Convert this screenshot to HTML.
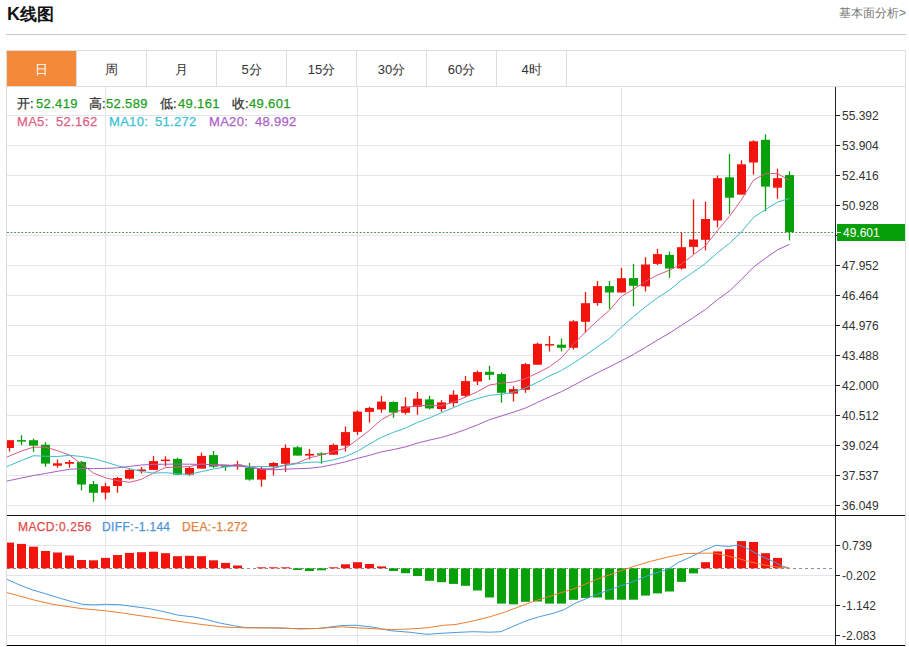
<!DOCTYPE html>
<html><head><meta charset="utf-8"><style>
html,body{margin:0;padding:0;background:#fff;}
body{width:909px;height:647px;overflow:hidden;position:relative;font-family:"Liberation Sans",sans-serif;}
.a{position:absolute;white-space:nowrap;}
#title{left:7px;top:2px;font-size:18px;font-weight:bold;color:#111;line-height:24px;}
#more{right:3px;top:4px;font-size:12px;color:#777;line-height:18px;}
#hr{left:6px;top:34px;width:900px;height:1px;background:#c8c8c8;}
#box{left:6px;top:50px;width:898px;height:600px;border:1px solid #ddd;}
.tab{position:absolute;top:51px;width:69px;height:35px;line-height:37px;text-align:center;font-size:13px;color:#333;border-right:1px solid #ddd;}
.tab.on{background:#f4893a;color:#fff;}
#tabline{left:7px;top:86px;width:898px;height:1px;background:#ddd;}
svg{position:absolute;left:0;top:0;}
svg text{font-family:"Liberation Sans",sans-serif;font-size:12px;fill:#333;}
.tx{line-height:16px;-webkit-text-stroke:0.25px;}
.k{color:#333} .gv{color:#22a022}
</style></head><body>
<div class="a" id="title">K<span style="font-size:17px;vertical-align:0.5px">线图</span></div>
<div class="a" id="more">基本面分析&gt;</div>
<div class="a" id="hr"></div>
<div class="a" id="box"></div>
<div class="tab on" style="left:7px">日</div><div class="tab" style="left:77px">周</div><div class="tab" style="left:147px">月</div><div class="tab" style="left:217px">5分</div><div class="tab" style="left:287px">15分</div><div class="tab" style="left:357px">30分</div><div class="tab" style="left:427px">60分</div><div class="tab" style="left:497px">4时</div>
<div class="a" id="tabline"></div>
<svg width="909" height="647" viewBox="0 0 909 647">
<defs><clipPath id="cp"><rect x="7" y="87" width="829" height="560"/></clipPath></defs><g clip-path="url(#cp)"><line x1="7" y1="115.5" x2="835" y2="115.5" stroke="#e3e5ea"/>
<line x1="7" y1="145.5" x2="835" y2="145.5" stroke="#e3e5ea"/>
<line x1="7" y1="175.5" x2="835" y2="175.5" stroke="#e3e5ea"/>
<line x1="7" y1="205.5" x2="835" y2="205.5" stroke="#e3e5ea"/>
<line x1="7" y1="235.5" x2="835" y2="235.5" stroke="#e3e5ea"/>
<line x1="7" y1="265.5" x2="835" y2="265.5" stroke="#e3e5ea"/>
<line x1="7" y1="295.5" x2="835" y2="295.5" stroke="#e3e5ea"/>
<line x1="7" y1="325.5" x2="835" y2="325.5" stroke="#e3e5ea"/>
<line x1="7" y1="355.5" x2="835" y2="355.5" stroke="#e3e5ea"/>
<line x1="7" y1="385.5" x2="835" y2="385.5" stroke="#e3e5ea"/>
<line x1="7" y1="415.5" x2="835" y2="415.5" stroke="#e3e5ea"/>
<line x1="7" y1="445.5" x2="835" y2="445.5" stroke="#e3e5ea"/>
<line x1="7" y1="475.5" x2="835" y2="475.5" stroke="#e3e5ea"/>
<line x1="7" y1="505.5" x2="835" y2="505.5" stroke="#e3e5ea"/>
<line x1="7" y1="545.5" x2="835" y2="545.5" stroke="#e3e5ea"/>
<line x1="7" y1="575.5" x2="835" y2="575.5" stroke="#e3e5ea"/>
<line x1="7" y1="605.5" x2="835" y2="605.5" stroke="#e3e5ea"/>
<line x1="7" y1="635.5" x2="835" y2="635.5" stroke="#e3e5ea"/>
<line x1="105.5" y1="87" x2="105.5" y2="645" stroke="#e3e5ea"/>
<line x1="357.5" y1="87" x2="357.5" y2="645" stroke="#e3e5ea"/>
<line x1="621.5" y1="87" x2="621.5" y2="645" stroke="#e3e5ea"/>
<line x1="7" y1="232.5" x2="836" y2="232.5" stroke="#4a8a52" stroke-dasharray="1.8,1.8"/>
<line x1="7" y1="568.5" x2="835" y2="568.5" stroke="#8a909a" stroke-dasharray="3,3"/>
<line x1="9.5" y1="440.2" x2="9.5" y2="451.4" stroke="#f0140c" stroke-width="1.3"/>
<rect x="5.0" y="440.2" width="9" height="7.8" fill="#f0140c"/>
<line x1="21.5" y1="435.2" x2="21.5" y2="445.0" stroke="#08a008" stroke-width="1.3"/>
<rect x="17.0" y="440.1" width="9" height="1.5" fill="#08a008"/>
<line x1="33.5" y1="438.7" x2="33.5" y2="451.8" stroke="#08a008" stroke-width="1.3"/>
<rect x="29.0" y="440.2" width="9" height="5.4" fill="#08a008"/>
<line x1="45.5" y1="442.2" x2="45.5" y2="466.8" stroke="#08a008" stroke-width="1.3"/>
<rect x="41.0" y="444.7" width="9" height="18.9" fill="#08a008"/>
<line x1="57.5" y1="459.5" x2="57.5" y2="467.7" stroke="#f0140c" stroke-width="1.3"/>
<rect x="53.0" y="463.3" width="9" height="2.4" fill="#f0140c"/>
<line x1="69.5" y1="460.0" x2="69.5" y2="467.7" stroke="#f0140c" stroke-width="1.3"/>
<rect x="65.0" y="462.0" width="9" height="1.8" fill="#f0140c"/>
<line x1="81.5" y1="461.0" x2="81.5" y2="490.3" stroke="#08a008" stroke-width="1.3"/>
<rect x="77.0" y="461.9" width="9" height="22.6" fill="#08a008"/>
<line x1="93.5" y1="481.0" x2="93.5" y2="501.8" stroke="#08a008" stroke-width="1.3"/>
<rect x="89.0" y="484.1" width="9" height="8.7" fill="#08a008"/>
<line x1="105.5" y1="482.9" x2="105.5" y2="499.4" stroke="#f0140c" stroke-width="1.3"/>
<rect x="101.0" y="486.2" width="9" height="6.4" fill="#f0140c"/>
<line x1="117.5" y1="476.9" x2="117.5" y2="492.8" stroke="#f0140c" stroke-width="1.3"/>
<rect x="113.0" y="478.0" width="9" height="8.0" fill="#f0140c"/>
<line x1="129.5" y1="468.8" x2="129.5" y2="479.6" stroke="#f0140c" stroke-width="1.3"/>
<rect x="125.0" y="469.9" width="9" height="8.8" fill="#f0140c"/>
<line x1="141.5" y1="467.0" x2="141.5" y2="473.6" stroke="#f0140c" stroke-width="1.3"/>
<rect x="137.0" y="469.5" width="9" height="1.5" fill="#f0140c"/>
<line x1="153.5" y1="456.0" x2="153.5" y2="469.9" stroke="#f0140c" stroke-width="1.3"/>
<rect x="149.0" y="461.1" width="9" height="8.8" fill="#f0140c"/>
<line x1="165.5" y1="456.3" x2="165.5" y2="466.4" stroke="#f0140c" stroke-width="1.3"/>
<rect x="161.0" y="459.6" width="9" height="1.5" fill="#f0140c"/>
<line x1="177.5" y1="457.6" x2="177.5" y2="474.7" stroke="#08a008" stroke-width="1.3"/>
<rect x="173.0" y="458.9" width="9" height="15.8" fill="#08a008"/>
<line x1="189.5" y1="466.4" x2="189.5" y2="475.8" stroke="#f0140c" stroke-width="1.3"/>
<rect x="185.0" y="468.0" width="9" height="6.7" fill="#f0140c"/>
<line x1="201.5" y1="452.6" x2="201.5" y2="468.6" stroke="#f0140c" stroke-width="1.3"/>
<rect x="197.0" y="455.9" width="9" height="12.7" fill="#f0140c"/>
<line x1="213.5" y1="451.0" x2="213.5" y2="468.0" stroke="#08a008" stroke-width="1.3"/>
<rect x="209.0" y="455.1" width="9" height="11.6" fill="#08a008"/>
<line x1="225.5" y1="465.8" x2="225.5" y2="470.8" stroke="#08a008" stroke-width="1.3"/>
<rect x="221.0" y="465.2" width="9" height="1.5" fill="#08a008"/>
<line x1="237.5" y1="460.9" x2="237.5" y2="469.7" stroke="#f0140c" stroke-width="1.3"/>
<rect x="233.0" y="464.7" width="9" height="1.7" fill="#f0140c"/>
<line x1="249.5" y1="463.0" x2="249.5" y2="480.7" stroke="#08a008" stroke-width="1.3"/>
<rect x="245.0" y="467.8" width="9" height="11.8" fill="#08a008"/>
<line x1="261.5" y1="466.9" x2="261.5" y2="486.7" stroke="#f0140c" stroke-width="1.3"/>
<rect x="257.0" y="468.6" width="9" height="11.0" fill="#f0140c"/>
<line x1="273.5" y1="462.0" x2="273.5" y2="475.5" stroke="#f0140c" stroke-width="1.3"/>
<rect x="269.0" y="463.0" width="9" height="3.9" fill="#f0140c"/>
<line x1="285.5" y1="444.4" x2="285.5" y2="471.9" stroke="#f0140c" stroke-width="1.3"/>
<rect x="281.0" y="447.9" width="9" height="15.9" fill="#f0140c"/>
<line x1="297.5" y1="446.0" x2="297.5" y2="455.6" stroke="#08a008" stroke-width="1.3"/>
<rect x="293.0" y="447.3" width="9" height="8.3" fill="#08a008"/>
<line x1="309.5" y1="449.0" x2="309.5" y2="459.4" stroke="#f0140c" stroke-width="1.3"/>
<rect x="305.0" y="453.9" width="9" height="1.7" fill="#f0140c"/>
<line x1="321.5" y1="452.3" x2="321.5" y2="463.8" stroke="#08a008" stroke-width="1.3"/>
<rect x="317.0" y="453.4" width="9" height="1.4" fill="#08a008"/>
<line x1="333.5" y1="443.5" x2="333.5" y2="454.7" stroke="#f0140c" stroke-width="1.3"/>
<rect x="329.0" y="444.9" width="9" height="9.8" fill="#f0140c"/>
<line x1="345.5" y1="426.4" x2="345.5" y2="451.5" stroke="#f0140c" stroke-width="1.3"/>
<rect x="341.0" y="432.1" width="9" height="13.6" fill="#f0140c"/>
<line x1="357.5" y1="410.5" x2="357.5" y2="435.0" stroke="#f0140c" stroke-width="1.3"/>
<rect x="353.0" y="411.6" width="9" height="20.3" fill="#f0140c"/>
<line x1="369.5" y1="406.8" x2="369.5" y2="422.6" stroke="#f0140c" stroke-width="1.3"/>
<rect x="365.0" y="407.9" width="9" height="4.0" fill="#f0140c"/>
<line x1="381.5" y1="395.8" x2="381.5" y2="412.8" stroke="#f0140c" stroke-width="1.3"/>
<rect x="377.0" y="401.6" width="9" height="7.9" fill="#f0140c"/>
<line x1="393.5" y1="401.3" x2="393.5" y2="417.8" stroke="#08a008" stroke-width="1.3"/>
<rect x="389.0" y="402.0" width="9" height="10.6" fill="#08a008"/>
<line x1="405.5" y1="397.2" x2="405.5" y2="414.5" stroke="#f0140c" stroke-width="1.3"/>
<rect x="401.0" y="406.4" width="9" height="6.4" fill="#f0140c"/>
<line x1="417.5" y1="391.9" x2="417.5" y2="414.8" stroke="#f0140c" stroke-width="1.3"/>
<rect x="413.0" y="398.7" width="9" height="8.1" fill="#f0140c"/>
<line x1="429.5" y1="395.8" x2="429.5" y2="409.5" stroke="#08a008" stroke-width="1.3"/>
<rect x="425.0" y="399.4" width="9" height="9.0" fill="#08a008"/>
<line x1="441.5" y1="400.2" x2="441.5" y2="411.7" stroke="#f0140c" stroke-width="1.3"/>
<rect x="437.0" y="402.4" width="9" height="6.6" fill="#f0140c"/>
<line x1="453.5" y1="390.3" x2="453.5" y2="406.8" stroke="#f0140c" stroke-width="1.3"/>
<rect x="449.0" y="394.7" width="9" height="8.4" fill="#f0140c"/>
<line x1="465.5" y1="376.0" x2="465.5" y2="396.9" stroke="#f0140c" stroke-width="1.3"/>
<rect x="461.0" y="381.1" width="9" height="14.7" fill="#f0140c"/>
<line x1="477.5" y1="370.5" x2="477.5" y2="385.0" stroke="#f0140c" stroke-width="1.3"/>
<rect x="473.0" y="372.1" width="9" height="9.4" fill="#f0140c"/>
<line x1="489.5" y1="365.8" x2="489.5" y2="380.0" stroke="#08a008" stroke-width="1.3"/>
<rect x="485.0" y="371.8" width="9" height="3.1" fill="#08a008"/>
<line x1="501.5" y1="372.4" x2="501.5" y2="402.7" stroke="#08a008" stroke-width="1.3"/>
<rect x="497.0" y="374.1" width="9" height="18.7" fill="#08a008"/>
<line x1="513.5" y1="386.2" x2="513.5" y2="401.6" stroke="#f0140c" stroke-width="1.3"/>
<rect x="509.0" y="389.1" width="9" height="4.5" fill="#f0140c"/>
<line x1="525.5" y1="363.0" x2="525.5" y2="392.8" stroke="#f0140c" stroke-width="1.3"/>
<rect x="521.0" y="364.1" width="9" height="25.7" fill="#f0140c"/>
<line x1="537.5" y1="342.7" x2="537.5" y2="364.7" stroke="#f0140c" stroke-width="1.3"/>
<rect x="533.0" y="343.8" width="9" height="20.9" fill="#f0140c"/>
<line x1="549.5" y1="336.0" x2="549.5" y2="351.5" stroke="#f0140c" stroke-width="1.3"/>
<rect x="545.0" y="344.1" width="9" height="1.5" fill="#f0140c"/>
<line x1="561.5" y1="338.5" x2="561.5" y2="351.5" stroke="#08a008" stroke-width="1.3"/>
<rect x="557.0" y="344.7" width="9" height="3.1" fill="#08a008"/>
<line x1="573.5" y1="320.2" x2="573.5" y2="349.6" stroke="#f0140c" stroke-width="1.3"/>
<rect x="569.0" y="321.3" width="9" height="26.5" fill="#f0140c"/>
<line x1="585.5" y1="292.0" x2="585.5" y2="332.5" stroke="#f0140c" stroke-width="1.3"/>
<rect x="581.0" y="303.2" width="9" height="18.6" fill="#f0140c"/>
<line x1="597.5" y1="281.0" x2="597.5" y2="305.7" stroke="#f0140c" stroke-width="1.3"/>
<rect x="593.0" y="286.1" width="9" height="16.9" fill="#f0140c"/>
<line x1="609.5" y1="281.0" x2="609.5" y2="309.0" stroke="#08a008" stroke-width="1.3"/>
<rect x="605.0" y="286.1" width="9" height="6.4" fill="#08a008"/>
<line x1="621.5" y1="267.8" x2="621.5" y2="292.5" stroke="#f0140c" stroke-width="1.3"/>
<rect x="617.0" y="278.2" width="9" height="14.3" fill="#f0140c"/>
<line x1="633.5" y1="263.9" x2="633.5" y2="306.3" stroke="#08a008" stroke-width="1.3"/>
<rect x="629.0" y="278.1" width="9" height="7.7" fill="#08a008"/>
<line x1="645.5" y1="257.2" x2="645.5" y2="291.5" stroke="#f0140c" stroke-width="1.3"/>
<rect x="641.0" y="264.5" width="9" height="21.9" fill="#f0140c"/>
<line x1="657.5" y1="249.0" x2="657.5" y2="265.0" stroke="#f0140c" stroke-width="1.3"/>
<rect x="653.0" y="254.1" width="9" height="9.8" fill="#f0140c"/>
<line x1="669.5" y1="251.5" x2="669.5" y2="277.8" stroke="#08a008" stroke-width="1.3"/>
<rect x="665.0" y="254.9" width="9" height="13.6" fill="#08a008"/>
<line x1="681.5" y1="232.5" x2="681.5" y2="269.6" stroke="#f0140c" stroke-width="1.3"/>
<rect x="677.0" y="247.2" width="9" height="21.3" fill="#f0140c"/>
<line x1="693.5" y1="199.3" x2="693.5" y2="254.1" stroke="#f0140c" stroke-width="1.3"/>
<rect x="689.0" y="239.5" width="9" height="7.4" fill="#f0140c"/>
<line x1="705.5" y1="201.6" x2="705.5" y2="250.3" stroke="#f0140c" stroke-width="1.3"/>
<rect x="701.0" y="219.0" width="9" height="20.8" fill="#f0140c"/>
<line x1="717.5" y1="175.5" x2="717.5" y2="227.4" stroke="#f0140c" stroke-width="1.3"/>
<rect x="713.0" y="178.2" width="9" height="42.3" fill="#f0140c"/>
<line x1="729.5" y1="153.8" x2="729.5" y2="214.1" stroke="#08a008" stroke-width="1.3"/>
<rect x="725.0" y="177.3" width="9" height="20.4" fill="#08a008"/>
<line x1="741.5" y1="160.3" x2="741.5" y2="194.6" stroke="#f0140c" stroke-width="1.3"/>
<rect x="737.0" y="164.3" width="9" height="30.3" fill="#f0140c"/>
<line x1="753.5" y1="140.2" x2="753.5" y2="174.7" stroke="#f0140c" stroke-width="1.3"/>
<rect x="749.0" y="141.3" width="9" height="21.2" fill="#f0140c"/>
<line x1="765.5" y1="134.3" x2="765.5" y2="211.3" stroke="#08a008" stroke-width="1.3"/>
<rect x="761.0" y="139.8" width="9" height="46.8" fill="#08a008"/>
<line x1="777.5" y1="168.6" x2="777.5" y2="198.8" stroke="#f0140c" stroke-width="1.3"/>
<rect x="773.0" y="178.2" width="9" height="9.5" fill="#f0140c"/>
<line x1="789.5" y1="171.4" x2="789.5" y2="240.4" stroke="#08a008" stroke-width="1.3"/>
<rect x="785.0" y="175.1" width="9" height="57.1" fill="#08a008"/>
<polyline points="-2.5,461.0 9.5,456.0 21.5,451.0 33.5,447.2 45.5,447.2 57.5,450.7 69.5,455.1 81.5,463.8 93.5,473.2 105.5,477.8 117.5,480.7 129.5,482.3 141.5,479.3 153.5,472.9 165.5,467.6 177.5,467.0 189.5,466.6 201.5,463.9 213.5,465.0 225.5,466.4 237.5,464.4 249.5,466.7 261.5,469.2 273.5,468.5 285.5,464.8 297.5,462.9 309.5,457.8 321.5,455.0 333.5,451.4 345.5,448.3 357.5,439.5 369.5,430.3 381.5,419.6 393.5,413.2 405.5,408.0 417.5,405.4 429.5,405.5 441.5,405.7 453.5,402.1 465.5,397.1 477.5,391.7 489.5,385.0 501.5,383.1 513.5,382.0 525.5,378.6 537.5,372.9 549.5,366.8 561.5,357.8 573.5,344.2 585.5,332.0 597.5,320.5 609.5,310.2 621.5,296.3 633.5,289.2 645.5,281.4 657.5,275.0 669.5,270.2 681.5,264.0 693.5,254.8 705.5,245.7 717.5,230.5 729.5,216.3 741.5,199.7 753.5,180.1 765.5,173.6 777.5,173.6 789.5,180.5" fill="none" stroke="#d95c82" stroke-width="1.0" stroke-linejoin="round"/>
<polyline points="-2.5,470.5 9.5,465.5 21.5,460.5 33.5,455.7 45.5,456.3 57.5,456.5 69.5,455.3 81.5,456.5 93.5,458.5 105.5,462.0 117.5,465.7 129.5,468.7 141.5,471.5 153.5,473.1 165.5,472.7 177.5,473.8 189.5,474.4 201.5,471.6 213.5,469.0 225.5,467.0 237.5,465.7 249.5,466.6 261.5,466.5 273.5,466.7 285.5,465.6 297.5,463.6 309.5,462.2 321.5,462.1 333.5,459.9 345.5,456.5 357.5,451.2 369.5,444.0 381.5,437.3 393.5,432.3 405.5,428.1 417.5,422.4 429.5,417.9 441.5,412.7 453.5,407.6 465.5,402.5 477.5,398.6 489.5,395.3 501.5,394.4 513.5,392.1 525.5,387.8 537.5,382.3 549.5,375.9 561.5,370.4 573.5,363.1 585.5,355.3 597.5,346.7 609.5,338.5 621.5,327.0 633.5,316.7 645.5,306.7 657.5,297.8 669.5,290.2 681.5,280.1 693.5,272.0 705.5,263.5 717.5,252.8 729.5,243.3 741.5,231.9 753.5,217.4 765.5,209.6 777.5,202.1 789.5,198.4" fill="none" stroke="#3cbccb" stroke-width="1.0" stroke-linejoin="round"/>
<polyline points="-2.5,483.0 9.5,480.5 21.5,478.0 33.5,475.5 45.5,473.5 57.5,471.3 69.5,469.3 81.5,468.6 93.5,468.5 105.5,468.4 117.5,467.8 129.5,466.4 141.5,465.0 153.5,464.4 165.5,464.2 177.5,464.1 189.5,464.2 201.5,464.4 213.5,464.6 225.5,464.9 237.5,465.7 249.5,467.6 261.5,469.0 273.5,469.9 285.5,469.1 297.5,468.7 309.5,468.3 321.5,466.9 333.5,464.5 345.5,461.8 357.5,458.4 369.5,455.3 381.5,451.9 393.5,449.5 405.5,446.9 417.5,443.1 429.5,440.1 441.5,437.4 453.5,433.8 465.5,429.5 477.5,424.9 489.5,419.7 501.5,415.9 513.5,412.2 525.5,408.0 537.5,402.4 549.5,396.9 561.5,391.6 573.5,385.4 585.5,378.9 597.5,372.7 609.5,366.9 621.5,360.7 633.5,354.4 645.5,347.3 657.5,340.1 669.5,333.1 681.5,325.3 693.5,317.5 705.5,309.4 717.5,299.7 729.5,290.9 741.5,279.4 753.5,267.1 765.5,258.2 777.5,249.9 789.5,244.3" fill="none" stroke="#a85cc2" stroke-width="1.0" stroke-linejoin="round"/>
<rect x="5.0" y="542.6" width="9" height="25.7" fill="#f0140c"/>
<rect x="17.0" y="543.9" width="9" height="24.4" fill="#f0140c"/>
<rect x="29.0" y="546.7" width="9" height="21.6" fill="#f0140c"/>
<rect x="41.0" y="551.0" width="9" height="17.3" fill="#f0140c"/>
<rect x="53.0" y="552.5" width="9" height="15.8" fill="#f0140c"/>
<rect x="65.0" y="555.5" width="9" height="12.8" fill="#f0140c"/>
<rect x="77.0" y="560.0" width="9" height="8.3" fill="#f0140c"/>
<rect x="89.0" y="560.3" width="9" height="8.0" fill="#f0140c"/>
<rect x="101.0" y="557.9" width="9" height="10.4" fill="#f0140c"/>
<rect x="113.0" y="555.0" width="9" height="13.3" fill="#f0140c"/>
<rect x="125.0" y="552.9" width="9" height="15.4" fill="#f0140c"/>
<rect x="137.0" y="552.2" width="9" height="16.1" fill="#f0140c"/>
<rect x="149.0" y="551.7" width="9" height="16.6" fill="#f0140c"/>
<rect x="161.0" y="553.2" width="9" height="15.1" fill="#f0140c"/>
<rect x="173.0" y="556.2" width="9" height="12.1" fill="#f0140c"/>
<rect x="185.0" y="555.8" width="9" height="12.5" fill="#f0140c"/>
<rect x="197.0" y="556.2" width="9" height="12.1" fill="#f0140c"/>
<rect x="209.0" y="560.3" width="9" height="8.0" fill="#f0140c"/>
<rect x="221.0" y="562.9" width="9" height="5.4" fill="#f0140c"/>
<rect x="233.0" y="565.5" width="9" height="2.8" fill="#f0140c"/>
<rect x="257.0" y="567.3" width="9" height="1.0" fill="#f0140c"/>
<rect x="269.0" y="567.3" width="9" height="1.0" fill="#f0140c"/>
<rect x="281.0" y="567.3" width="9" height="1.0" fill="#f0140c"/>
<rect x="293.0" y="568.3" width="9" height="1.7" fill="#08a008"/>
<rect x="305.0" y="568.3" width="9" height="2.7" fill="#08a008"/>
<rect x="317.0" y="568.3" width="9" height="2.0" fill="#08a008"/>
<rect x="329.0" y="567.3" width="9" height="1.0" fill="#f0140c"/>
<rect x="341.0" y="564.3" width="9" height="4.0" fill="#f0140c"/>
<rect x="353.0" y="562.2" width="9" height="6.1" fill="#f0140c"/>
<rect x="365.0" y="564.0" width="9" height="4.3" fill="#f0140c"/>
<rect x="377.0" y="566.4" width="9" height="1.9" fill="#f0140c"/>
<rect x="389.0" y="568.3" width="9" height="2.7" fill="#08a008"/>
<rect x="401.0" y="568.3" width="9" height="4.9" fill="#08a008"/>
<rect x="413.0" y="568.3" width="9" height="7.7" fill="#08a008"/>
<rect x="425.0" y="568.3" width="9" height="12.5" fill="#08a008"/>
<rect x="437.0" y="568.3" width="9" height="13.9" fill="#08a008"/>
<rect x="449.0" y="568.3" width="9" height="15.6" fill="#08a008"/>
<rect x="461.0" y="568.3" width="9" height="17.5" fill="#08a008"/>
<rect x="473.0" y="568.3" width="9" height="22.2" fill="#08a008"/>
<rect x="485.0" y="568.3" width="9" height="29.2" fill="#08a008"/>
<rect x="497.0" y="568.3" width="9" height="35.3" fill="#08a008"/>
<rect x="509.0" y="568.3" width="9" height="36.0" fill="#08a008"/>
<rect x="521.0" y="568.3" width="9" height="33.5" fill="#08a008"/>
<rect x="533.0" y="568.3" width="9" height="33.2" fill="#08a008"/>
<rect x="545.0" y="568.3" width="9" height="35.3" fill="#08a008"/>
<rect x="557.0" y="568.3" width="9" height="35.3" fill="#08a008"/>
<rect x="569.0" y="568.3" width="9" height="31.5" fill="#08a008"/>
<rect x="581.0" y="568.3" width="9" height="29.6" fill="#08a008"/>
<rect x="593.0" y="568.3" width="9" height="29.2" fill="#08a008"/>
<rect x="605.0" y="568.3" width="9" height="31.4" fill="#08a008"/>
<rect x="617.0" y="568.3" width="9" height="31.4" fill="#08a008"/>
<rect x="629.0" y="568.3" width="9" height="31.4" fill="#08a008"/>
<rect x="641.0" y="568.3" width="9" height="27.3" fill="#08a008"/>
<rect x="653.0" y="568.3" width="9" height="25.1" fill="#08a008"/>
<rect x="665.0" y="568.3" width="9" height="23.2" fill="#08a008"/>
<rect x="677.0" y="568.3" width="9" height="13.6" fill="#08a008"/>
<rect x="689.0" y="568.3" width="9" height="5.1" fill="#08a008"/>
<rect x="701.0" y="562.2" width="9" height="6.1" fill="#f0140c"/>
<rect x="713.0" y="551.4" width="9" height="16.9" fill="#f0140c"/>
<rect x="725.0" y="549.2" width="9" height="19.1" fill="#f0140c"/>
<rect x="737.0" y="541.1" width="9" height="27.2" fill="#f0140c"/>
<rect x="749.0" y="542.0" width="9" height="26.3" fill="#f0140c"/>
<rect x="761.0" y="553.2" width="9" height="15.1" fill="#f0140c"/>
<rect x="773.0" y="557.9" width="9" height="10.4" fill="#f0140c"/>
<polyline points="6.7,579.2 17.6,584.1 31.7,589.7 45.8,593.8 59.9,598.2 73.9,602.2 82.7,604.3 95,604.9 105.6,604.3 119.7,604.7 133.8,606.6 147.9,608.4 164.1,611.7 178.2,615.2 194,617 206.3,619.6 220.4,623.2 234.5,625.8 245,627.6 273.2,627.9 290.8,628.5 317.6,628.5 342.3,625.5 356.3,625.2 374,627.3 391.5,630.8 409.2,632.2 426.8,634.3 444.4,633.1 455,632.5 472.6,631.7 490.2,632.2 500.8,631.7 513.1,626.4 525.4,621.1 539.5,616.7 553.6,613.2 564.2,609.6 574.7,603.5 585.3,599.1 597.6,594 615.2,587.8 632.8,581.7 650.4,574.6 668,569.3 678.6,562.3 692.7,556.1 702.1,551.3 716,545.3 728.7,546.5 738.4,544.9 746.9,548.3 760.2,555.6 774.7,562.2 782,565.9 789.5,568.2" fill="none" stroke="#4b9be0" stroke-width="1.0" stroke-linejoin="round"/>
<polyline points="6.7,592.5 17.6,595.5 35.2,600.3 52.8,604.3 70.4,607 82.7,608.7 105.6,610.8 123.2,613.1 140.8,615.8 160,618.4 167.6,619.6 185.2,622.3 202.8,624.6 220.4,626.7 234.5,627.6 255.6,627.9 282,627.9 300,629 317.6,628.5 342.3,626.8 356.3,627.8 374,628.7 391.5,629.6 409.2,629 426.8,627.8 444.4,625.2 455,624.6 472.6,621.1 490.2,616.7 504.3,612.3 518.4,607 532.5,601.7 546.5,597.3 560.6,592.9 574.7,588.5 597.6,579 615.2,572.9 632.8,566.7 650.4,561.4 668,557 685.6,553.5 702.1,553.2 714.2,553.2 726.3,555.6 738.4,558.6 750.5,561.9 762.6,564.7 774.7,566.7 789.5,568.2" fill="none" stroke="#ee7d30" stroke-width="1.0" stroke-linejoin="round"/></g><line x1="835.5" y1="87" x2="835.5" y2="646" stroke="#222"/>
<line x1="7" y1="515.5" x2="905" y2="515.5" stroke="#111" stroke-width="1.1"/>
<line x1="7" y1="645.5" x2="905" y2="645.5" stroke="#000" stroke-width="1.1"/>
<line x1="836" y1="115.5" x2="840" y2="115.5" stroke="#222"/>
<text x="842" y="119.5">55.392</text>
<line x1="836" y1="145.5" x2="840" y2="145.5" stroke="#222"/>
<text x="842" y="149.5">53.904</text>
<line x1="836" y1="175.5" x2="840" y2="175.5" stroke="#222"/>
<text x="842" y="179.5">52.416</text>
<line x1="836" y1="205.5" x2="840" y2="205.5" stroke="#222"/>
<text x="842" y="209.5">50.928</text>
<line x1="836" y1="235.5" x2="840" y2="235.5" stroke="#222"/>
<line x1="836" y1="265.5" x2="840" y2="265.5" stroke="#222"/>
<text x="842" y="269.5">47.952</text>
<line x1="836" y1="295.5" x2="840" y2="295.5" stroke="#222"/>
<text x="842" y="299.5">46.464</text>
<line x1="836" y1="325.5" x2="840" y2="325.5" stroke="#222"/>
<text x="842" y="329.5">44.976</text>
<line x1="836" y1="355.5" x2="840" y2="355.5" stroke="#222"/>
<text x="842" y="359.5">43.488</text>
<line x1="836" y1="385.5" x2="840" y2="385.5" stroke="#222"/>
<text x="842" y="389.5">42.000</text>
<line x1="836" y1="415.5" x2="840" y2="415.5" stroke="#222"/>
<text x="842" y="419.5">40.512</text>
<line x1="836" y1="445.5" x2="840" y2="445.5" stroke="#222"/>
<text x="842" y="449.5">39.024</text>
<line x1="836" y1="475.5" x2="840" y2="475.5" stroke="#222"/>
<text x="842" y="479.5">37.537</text>
<line x1="836" y1="505.5" x2="840" y2="505.5" stroke="#222"/>
<text x="842" y="509.5">36.049</text>
<line x1="836" y1="545.5" x2="840" y2="545.5" stroke="#222"/>
<text x="842" y="549.5">0.739</text>
<line x1="836" y1="575.5" x2="840" y2="575.5" stroke="#222"/>
<text x="842" y="579.5">-0.202</text>
<line x1="836" y1="605.5" x2="840" y2="605.5" stroke="#222"/>
<text x="842" y="609.5">-1.142</text>
<line x1="836" y1="635.5" x2="840" y2="635.5" stroke="#222"/>
<text x="842" y="639.5">-2.083</text>
<rect x="837" y="224" width="68" height="17" fill="#08a008"/><line x1="837" y1="232.5" x2="841" y2="232.5" stroke="#fff"/>
<text x="843" y="237" style="fill:#fff">49.601</text>
</svg>
<div class="a tx" style="left:17px;top:96px;color:#333;font-size:13px;letter-spacing:0.0px;">开:</div>
<div class="a tx" style="left:36px;top:96px;color:#1e9e1e;font-size:13px;letter-spacing:0.35px;">52.419</div>
<div class="a tx" style="left:89px;top:96px;color:#333;font-size:13px;letter-spacing:0.0px;">高:</div>
<div class="a tx" style="left:106px;top:96px;color:#1e9e1e;font-size:13px;letter-spacing:0.35px;">52.589</div>
<div class="a tx" style="left:160px;top:96px;color:#333;font-size:13px;letter-spacing:0.0px;">低:</div>
<div class="a tx" style="left:178px;top:96px;color:#1e9e1e;font-size:13px;letter-spacing:0.35px;">49.161</div>
<div class="a tx" style="left:232px;top:96px;color:#333;font-size:13px;letter-spacing:0.0px;">收:</div>
<div class="a tx" style="left:249px;top:96px;color:#1e9e1e;font-size:13px;letter-spacing:0.35px;">49.601</div>
<div class="a tx" style="left:17px;top:114px;color:#dc5f86;font-size:13px;letter-spacing:0.3px;">MA5:</div>
<div class="a tx" style="left:56px;top:114px;color:#dc5f86;font-size:13px;letter-spacing:0.3px;">52.162</div>
<div class="a tx" style="left:109px;top:114px;color:#3bbfd2;font-size:13px;letter-spacing:0.3px;">MA10:</div>
<div class="a tx" style="left:155px;top:114px;color:#3bbfd2;font-size:13px;letter-spacing:0.3px;">51.272</div>
<div class="a tx" style="left:209px;top:114px;color:#ad5fc6;font-size:13px;letter-spacing:0.3px;">MA20:</div>
<div class="a tx" style="left:255px;top:114px;color:#ad5fc6;font-size:13px;letter-spacing:0.3px;">48.992</div>
<div class="a tx" style="left:18px;top:519px;color:#e04a4a;font-size:12px;letter-spacing:0.4px;">MACD:</div>
<div class="a tx" style="left:59px;top:519px;color:#e04a4a;font-size:12px;letter-spacing:0.6px;">0.256</div>
<div class="a tx" style="left:102px;top:519px;color:#4b93da;font-size:12px;letter-spacing:0.4px;">DIFF:</div>
<div class="a tx" style="left:134.5px;top:519px;color:#4b93da;font-size:12px;letter-spacing:0.3px;">-1.144</div>
<div class="a tx" style="left:182px;top:519px;color:#e2803c;font-size:12px;letter-spacing:0.4px;">DEA:</div>
<div class="a tx" style="left:212px;top:519px;color:#e2803c;font-size:12px;letter-spacing:0.3px;">-1.272</div>
</body></html>
